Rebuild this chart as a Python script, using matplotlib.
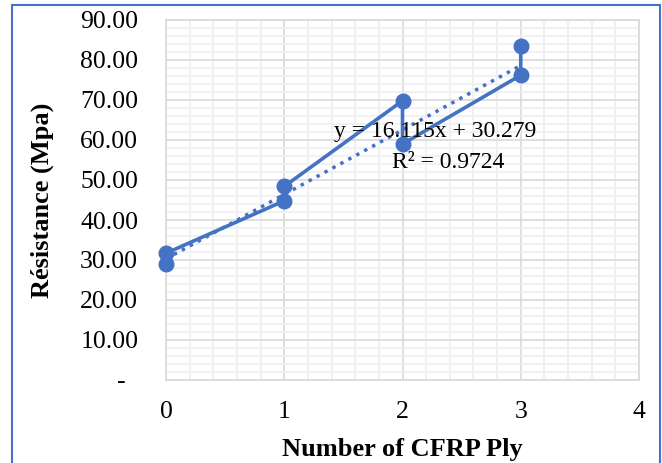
import matplotlib
matplotlib.use('Agg')
import matplotlib.pyplot as plt
from matplotlib.patches import Rectangle
from matplotlib.ticker import MultipleLocator, FuncFormatter
import numpy as np

# Données
plies = [0, 0, 1, 1, 2, 2, 3, 3]
resistance = [29.0, 31.7, 44.8, 48.4, 69.8, 59.0, 76.2, 83.5]
trend_slope = 16.115
trend_intercept = 30.279
r_squared = 0.9724

blue = '#4472C4'

plt.rcParams['font.family'] = ['Liberation Serif', 'DejaVu Serif']

fig = plt.figure(figsize=(6.62, 4.63), dpi=100)
ax = fig.add_axes([166 / 662, 1 - 380 / 463, 473 / 662, 360 / 463])

# Grille principale et secondaire
ax.xaxis.set_major_locator(MultipleLocator(1))
ax.xaxis.set_minor_locator(MultipleLocator(0.2))
ax.yaxis.set_major_locator(MultipleLocator(10))
ax.yaxis.set_minor_locator(MultipleLocator(2))
ax.grid(which='minor', color='#efefef', linewidth=1.2, zorder=0)
ax.grid(which='major', color='#d9d9d9', linewidth=1.2, zorder=0)
ax.set_axisbelow(True)
for sp in ax.spines.values():
    sp.set_color('#d9d9d9')
    sp.set_linewidth(1.2)

ax.set_xlim(0, 4)
ax.set_ylim(0, 90)
ax.tick_params(which='both', length=0, labelsize=18.5, colors='black')
ax.tick_params(axis='x', pad=15)
ax.tick_params(axis='y', pad=20)
# format comptable : zéro affiché comme un tiret
ax.yaxis.set_major_formatter(FuncFormatter(lambda v, p: '-  ' if v == 0 else f'{v:.2f}'))

# Série et tendance
ax.plot(plies, resistance, color=blue, linewidth=2.6, marker='o',
        markersize=10.5, zorder=3, clip_on=False)
xt = np.array([0, 3])
ax.plot(xt, trend_slope * xt + trend_intercept, color=blue, linewidth=2.5,
        linestyle=(0, (1, 1.6)), zorder=2)

ax.text(2.28, 62.0, f'y = {trend_slope:.3f}x + {trend_intercept:.3f}',
        fontsize=17, ha='center', va='center', zorder=4)
ax.text(2.39, 54.4, f'R² = {r_squared}', fontsize=17, ha='center',
        va='center', zorder=4)

ax.set_xlabel('Number of CFRP Ply', fontsize=19, fontweight='bold', labelpad=11)
fig.text(42 / 662, 1 - 200 / 463, 'Résistance (Mpa)', rotation=90, fontsize=19,
         fontweight='bold', ha='center', va='center')

# Cadre bleu
fig.patches.append(Rectangle((12 / 662, -0.1), 648 / 662, 1.1 - 5 / 463,
                             transform=fig.transFigure, fill=False,
                             edgecolor=blue, linewidth=1.5))

fig.savefig('out.png', dpi=100)
